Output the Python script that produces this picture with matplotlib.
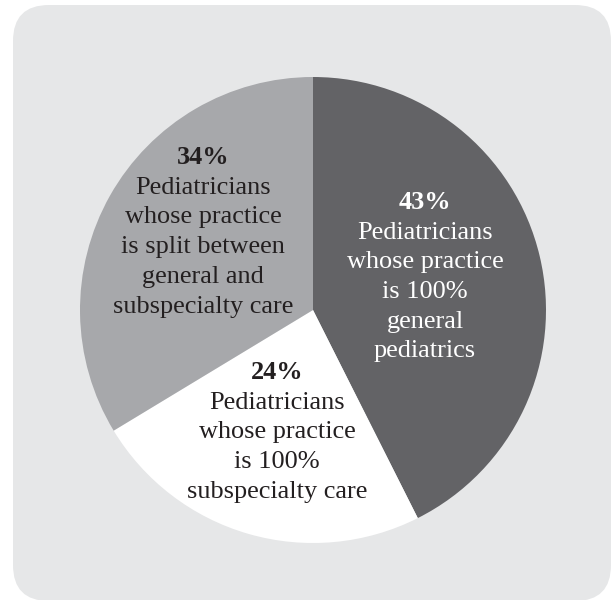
import matplotlib
matplotlib.use("Agg")
import matplotlib.pyplot as plt
from matplotlib.patches import FancyBboxPatch

# Data
shares = [43, 24, 34]
pct_labels = ["43%", "24%", "34%"]
descriptions = [
    ["Pediatricians", "whose practice", "is 100%", "general", "pediatrics"],
    ["Pediatricians", "whose practice", "is 100%", "subspecialty care"],
    ["Pediatricians", "whose practice", "is split between", "general and", "subspecialty care"],
]
slice_colors = ["#636366", "#ffffff", "#a7a8ab"]
text_colors = ["#ffffff", "#231f20", "#231f20"]

W, H = 611, 600
fig = plt.figure(figsize=(W / 100, H / 100), dpi=100)
fig.patch.set_facecolor("white")
ax = fig.add_axes([0, 0, 1, 1])
ax.set_xlim(0, W)
ax.set_ylim(0, H)
ax.set_aspect("equal")
ax.axis("off")

# rounded background panel
box = FancyBboxPatch((13 + 36, -1 + 36), 598 - 72, 596 - 72,
                     boxstyle="round,pad=36", facecolor="#e6e7e8",
                     edgecolor="none", zorder=0)
ax.add_patch(box)

cx, cy, r = 313, H - 310, 233
ax.pie(shares, colors=slice_colors, startangle=90, counterclock=False,
       center=(cx, cy), radius=r, wedgeprops=dict(linewidth=0),
       frame=True)
ax.set_xlim(0, W)
ax.set_ylim(0, H)
ax.set_aspect("equal")
ax.axis("off")

# label anchors (x centre, baseline of first line in px from top)
anchors = [(425, 209), (277, 379), (203, 164)]
step = 29.7
fam = "Liberation Serif"
fs = 18.9
for i in range(3):
    x, y0 = anchors[i]
    ax.text(x, H - y0, pct_labels[i], ha="center", va="baseline",
            fontsize=fs, fontweight="bold", family=fam, color=text_colors[i])
    for j, line in enumerate(descriptions[i]):
        ax.text(x, H - (y0 + step * (j + 1)), line, ha="center", va="baseline",
                fontsize=fs, family=fam, color=text_colors[i])

fig.savefig("out.png", dpi=100, facecolor="white")
